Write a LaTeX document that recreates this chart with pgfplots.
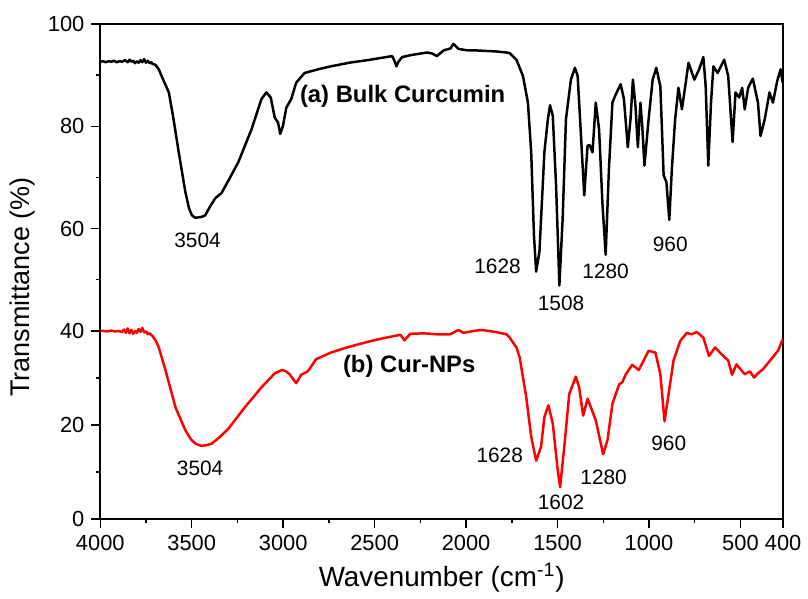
\documentclass[border=0pt]{standalone}
\usepackage{pgfplots}
\pgfplotsset{compat=1.18}
\usepackage{fontspec}
\setmainfont{Liberation Sans}
\begin{document}
\begin{tikzpicture}
\begin{axis}[
  name=ax,
  scale only axis,
  width=343.9pt, height=249.4pt,
  x dir=reverse,
  x coord trafo/.code={\pgfmathparse{#1>=500 ? #1 : 500-(500-#1)*2.334}},
  x coord inv trafo/.code={\pgfmathparse{#1>=500 ? #1 : 500-(500-#1)/2.334}},
  y coord trafo/.code={\pgfmathparse{#1<=40 ? #1*0.9495 : 37.98+(#1-40)*1.0337}},
  y coord inv trafo/.code={\pgfmathparse{#1<=37.98 ? #1/0.9495 : 40+(#1-37.98)/1.0337}},
  xmin=400, xmax=4000, ymin=0, ymax=100,
  xtick={4000,3500,3000,2500,2000,1500,1000,500,400},
  xticklabels={4000,3500,3000,2500,2000,1500,1000,500,400},
  minor xtick={3750,3250,2750,2250,1750,1250,750},
  ytick={0,20,40,60,80,100},
  yticklabels={0,20,40,60,80,100},
  minor ytick={10,30,50,70,90},
  tick pos=left,
  tick align=outside,
  major tick length=4.5pt,
  minor tick length=2.2pt,
  every tick/.style={black, line width=0.7pt},
  axis line style={line width=0.8pt},
  tick label style={font=\fontsize{11}{13}\selectfont},
  xlabel={Wavenumber (cm\textsuperscript{-1})},
  ylabel={Transmittance (\%)},
  every axis x label/.style={at={(axis description cs:0.5,-0.118)}, anchor=center, font=\fontsize{14}{16}\selectfont},
  every axis y label/.style={at={(axis description cs:-0.1134,0.469)}, anchor=center, rotate=90, font=\fontsize{13.6}{16}\selectfont},
  clip=false,
]
\addplot[black, line width=1.25pt, line join=round] coordinates {
(4000,92.6)(3985,92.7)(3970,92.5)(3955,92.7)(3940,92.6)(3925,92.8)(3910,92.5)(3895,92.7)(3880,92.6)(3865,92.9)(3850,92.5)(3840,93.0)(3830,92.6)(3820,92.8)(3810,92.3)(3800,92.7)(3790,92.4)(3780,92.9)(3770,92.5)(3760,93.1)(3750,92.4)(3740,92.8)(3730,92.3)(3720,92.5)(3716,92.2)(3698,92.0)
(3680,91.1)(3655,89.0)(3625,86.6)(3600,81.5)(3571,74.9)(3535,67.2)(3515,64.0)(3499,62.6)(3480,62.1)(3462,62.2)(3445,62.3)(3426,62.6)(3400,64.3)(3372,65.9)(3336,67.0)(3290,70.0)(3245,73.0)(3173,79.4)(3119,85.3)(3092,86.6)(3068,85.6)(3046,81.7)(3028,80.7)(3016,78.5)(3001,80.1)(2983,83.6)(2956,85.3)(2929,88.5)(2883,90.4)(2800,91.2)(2739,91.7)(2640,92.4)(2540,92.9)(2404,93.7)(2392,92.8)(2381,91.7)(2370,92.6)(2350,93.5)(2300,93.9)(2214,94.4)(2185,94.2)(2160,93.7)(2123,94.8)(2085,95.2)(2069,96.1)(2055,95.6)(2042,95.1)(1990,94.8)(1942,94.8)(1890,94.7)(1834,94.6)(1780,94.4)(1762,94.3)(1725,93.0)(1689,89.8)(1662,84.6)(1644,74.9)(1629,58.7)(1617,51.6)(1599,55.5)(1572,74.9)(1553,81.4)(1541,84.1)(1526,82.0)(1508,68.4)(1490,48.9)(1472,62.0)(1454,81.4)(1427,89.1)(1405,91.4)(1390,89.8)(1372,78.2)(1354,66.5)(1336,76.2)(1324,76.3)(1309,74.9)(1291,84.6)(1273,79.4)(1255,65.2)(1237,54.9)(1219,71.7)(1200,84.6)(1182,86.2)(1155,88.2)(1137,85.3)(1116,75.9)(1101,81.4)(1088,89.1)(1074,84.0)(1061,75.9)(1047,84.6)(1037,80.1)(1025,72.3)(1002,81.4)(980,89.1)(960,91.4)(938,87.8)(920,70.4)(905,69.1)(889,61.7)(875,71.7)(857,81.4)(839,87.5)(820,83.3)(802,87.8)(784,92.4)(752,89.1)(726,91.1)(703,93.5)(690,87.8)(676,72.3)(661,84.6)(648,91.7)(625,90.4)(589,93.0)(567,89.8)(543,76.9)(527,86.6)(507,85.6)(496,87.5)(490,83.3)(482,87.5)(471,89.3)(459,84.6)(453,78.1)(443,81.4)(432,86.6)(424,84.6)(414,88.8)(406,91.1)(401,88.5)
};
\addplot[red, line width=1.25pt, line join=round] coordinates {
(4000,40.0)(3980,40.0)(3960,39.9)(3940,40.1)(3920,39.9)(3900,40.0)(3880,39.8)(3870,40.3)(3860,39.6)(3850,40.5)(3840,39.5)(3830,40.2)(3820,39.4)(3810,40.0)(3800,39.6)(3790,40.4)(3780,39.8)(3770,40.6)(3760,39.7)(3750,39.9)(3740,39.3)(3730,39.5)(3716,39.0)(3696,37.9)(3680,36.5)(3643,31.6)(3589,23.8)(3535,18.9)(3505,17.0)(3480,16.05)(3460,15.7)(3445,15.6)(3420,15.7)(3390,16.05)(3345,17.5)(3300,19.2)(3209,23.8)(3119,28.0)(3046,31.0)(3006,31.7)(2985,31.4)(2965,30.8)(2929,28.9)(2915,29.8)(2902,30.7)(2870,31.3)(2856,31.9)(2820,34.0)(2739,35.4)(2660,36.4)(2576,37.3)(2485,38.2)(2359,39.2)(2337,38.0)(2305,39.4)(2230,39.5)(2160,39.3)(2087,39.3)(2042,40.2)(2015,39.6)(1960,40.0)(1915,40.2)(1840,39.8)(1780,39.3)(1762,38.6)(1725,36.5)(1707,34.4)(1689,30.1)(1671,25.9)(1644,17.5)(1617,12.4)(1590,15.4)(1572,21.7)(1550,24.2)(1526,20.3)(1499,10.4)(1486,6.8)(1463,15.4)(1436,26.6)(1400,30.3)(1382,28.0)(1360,22.0)(1336,25.6)(1318,23.8)(1291,21.0)(1251,13.8)(1227,16.8)(1200,24.5)(1164,28.6)(1146,29.1)(1128,30.7)(1092,32.8)(1056,31.7)(1002,35.8)(965,35.4)(938,30.8)(915,20.8)(893,26.6)(866,33.7)(829,37.9)(793,39.6)(766,39.3)(739,39.8)(703,38.6)(672,34.7)(639,36.5)(594,34.7)(567,33.7)(546,30.7)(522,32.9)(490,30.8)(478,31.4)(468,30.1)(459,31.0)(447,31.9)(428,34.0)(412,35.8)(401,38.2)
};
\node[anchor=west, inner sep=0pt, font=\fontsize{12}{14}\selectfont\bfseries] at (axis cs:2910,85.8) {(a) Bulk Curcumin};
\node[anchor=west, inner sep=0pt, font=\fontsize{12}{14}\selectfont\bfseries] at (axis cs:2675,32.5) {(b) Cur-NPs};
\begin{scope}[every node/.style={inner sep=0pt, font=\fontsize{10.5}{12}\selectfont}]
\node at (axis cs:3468,57.7) {3504};
\node at (axis cs:1828,52.7) {1628};
\node at (axis cs:1481,45.5) {1508};
\node at (axis cs:1237,51.6) {1280};
\node at (axis cs:884,57.0) {960};
\node at (axis cs:3454,10.8) {3504};
\node at (axis cs:1816,13.6) {1628};
\node at (axis cs:1481,3.6) {1602};
\node at (axis cs:1248,8.85) {1280};
\node at (axis cs:892,16.2) {960};
\end{scope}
\end{axis}
\path (ax.south west) ++(-50.5pt,-37.65pt) coordinate (bl);
\path (ax.north east) ++(9.65pt,12pt) coordinate (tr);
\path (bl) rectangle (tr);
\end{tikzpicture}
\end{document}
